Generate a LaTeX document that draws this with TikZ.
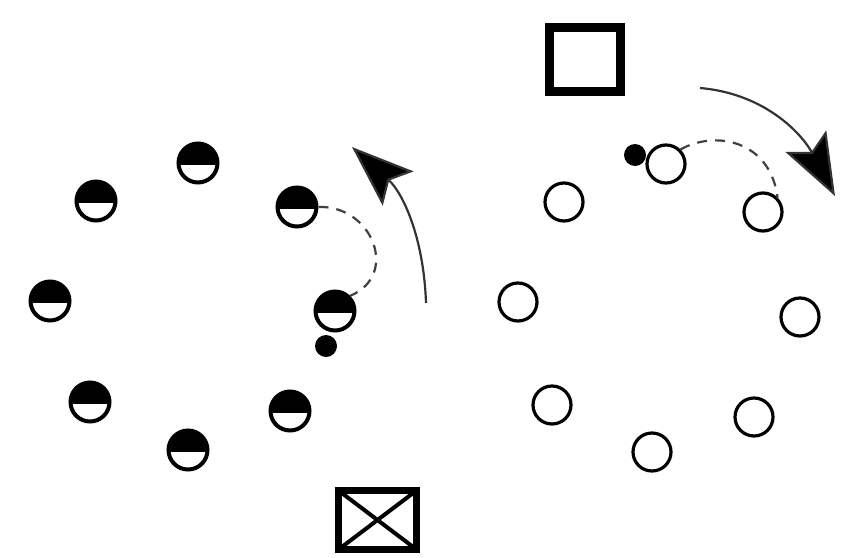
\documentclass[tikz,border=0pt]{standalone}
\usetikzlibrary{arrows.meta}
\begin{document}
\begin{tikzpicture}[x=1pt,y=-1pt,
  halfp/.style={circle,draw,line width=4pt,minimum size=39pt,inner sep=0pt,
    path picture={\fill[black] ([yshift=-2pt]path picture bounding box.west) rectangle (path picture bounding box.north east);}},
  openp/.style={circle,draw,line width=3.2pt,minimum size=38pt,inner sep=0pt},
  ballp/.style={circle,fill=black,minimum size=22pt,inner sep=0pt},
  runline/.style={line width=2.2pt,draw=black!75,dash pattern=on 10pt off 8pt},
  turnarrow/.style={line width=2.2pt,draw=black!80,-{Stealth[length=62pt,width=46pt,inset=12pt,fill=black]}},
  squarebox/.style={draw,line width=9pt,minimum width=71pt,minimum height=64pt,inner sep=0pt},
  crossbox/.style={draw,line width=7pt,minimum width=78pt,minimum height=59pt,inner sep=0pt,
    path picture={\draw[line width=4pt] (path picture bounding box.north west) -- (path picture bounding box.south east)
      (path picture bounding box.north east) -- (path picture bounding box.south west);}}]
\useasboundingbox (0,0) rectangle (848,557);
% left group
\node[halfp] (L1) at (198,163) {};
\node[halfp] (L2) at (96,201) {};
\node[halfp] (L3) at (297,207) {};
\node[halfp] (L4) at (50,301) {};
\node[halfp] (L5) at (335,311) {};
\node[halfp] (L6) at (90,402) {};
\node[halfp] (L7) at (290,411) {};
\node[halfp] (L8) at (188,450) {};
\node[ballp] (LB) at (326,346) {};
% right group
\node[openp] (R1) at (666,164) {};
\node[openp] (R2) at (564,202) {};
\node[openp] (R3) at (763,212) {};
\node[openp] (R4) at (518,302) {};
\node[openp] (R5) at (800,317) {};
\node[openp] (R6) at (552,405) {};
\node[openp] (R7) at (754,417) {};
\node[openp] (R8) at (652,452) {};
\node[ballp] (RB) at (635,155) {};
% boxes
\node[squarebox] (SQ) at (585,59) {};
\node[crossbox] (CB) at (377.5,520) {};
% runs
\draw[runline] (L3.east) .. controls (372,205) and (400,275) .. (L5.north east);
\draw[runline] (R1.north east) .. controls (715,130) and (770,140) .. (R3.north east);
% turning arrows
\coordinate (LA0) at (426,303);
\coordinate (LA1) at (352,147);
\coordinate (RA0) at (700,88);
\coordinate (RA1) at (835,196);
\draw[turnarrow] (LA0) to[out=92,in=-42] (LA1);
\draw[turnarrow] (RA0) to[out=-5,in=118] (RA1);
\end{tikzpicture}
\end{document}
